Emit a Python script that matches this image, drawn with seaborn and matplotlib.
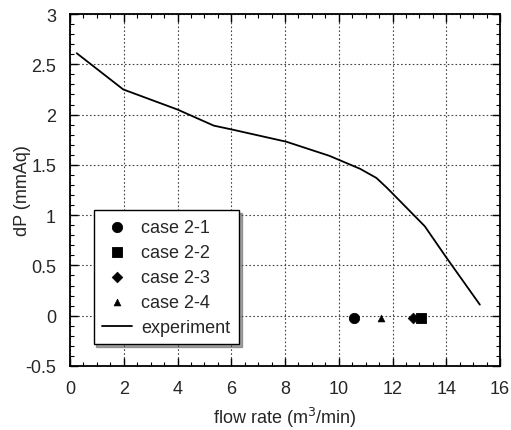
import numpy as np
import pandas as pd
import matplotlib
matplotlib.use("Agg")
import matplotlib.pyplot as plt
import seaborn as sns
from matplotlib.ticker import MultipleLocator

# experiment curve
exp_flow = [0.25, 1.98, 4.0, 5.35, 6.05, 8.05, 9.65, 10.8, 11.4, 11.8, 13.2, 14.0, 15.25]
exp_dp = [2.61, 2.25, 2.05, 1.89, 1.85, 1.73, 1.59, 1.46, 1.37, 1.27, 0.89, 0.58, 0.11]

# simulation cases
case_names = ["case 2-1", "case 2-2", "case 2-3", "case 2-4"]
case_flow = [10.55, 13.05, 12.75, 11.58]
case_dp = [-0.02, -0.02, -0.02, -0.02]
case_markers = ["o", "s", "D", "^"]
case_sizes = [55, 60, 30, 25]

sns.set_style("ticks")
plt.rcParams['font.family'] = ['Liberation Sans', 'DejaVu Sans']

fig = plt.figure(figsize=(5.11, 4.31), dpi=100)
ax = fig.add_axes([70/511, 1-367/431, 430/511, 352/431])

df_exp = pd.DataFrame({"flow": exp_flow, "dp": exp_dp})
sns.lineplot(data=df_exp, x="flow", y="dp", ax=ax, color="black", lw=1.3,
             label="experiment", sort=False, zorder=3)

for name, fx, dy, mk, sz in zip(case_names, case_flow, case_dp, case_markers, case_sizes):
    d = pd.DataFrame({"flow": [fx], "dp": [dy]})
    sns.scatterplot(data=d, x="flow", y="dp", ax=ax, marker=mk, s=sz,
                    color="black", edgecolor="black", label=name, zorder=4)

ax.set_xlim(0, 16)
ax.set_ylim(-0.5, 3)
ax.xaxis.set_minor_locator(MultipleLocator(0.5))
ax.yaxis.set_minor_locator(MultipleLocator(0.1))
ax.set_xticks(np.arange(0, 17, 2))
ax.set_xticklabels([str(v) for v in range(0, 17, 2)])
ax.set_yticks(np.arange(-0.5, 3.01, 0.5))
ax.set_yticklabels(["-0.5", "0", "0.5", "1", "1.5", "2", "2.5", "3"])
ax.tick_params(which="both", direction="in", top=True, right=True, labelsize=13, color="black")
ax.tick_params(which="major", length=6, width=1)
ax.tick_params(which="minor", length=3, width=0.8)
ax.tick_params(axis="x", pad=10)
ax.tick_params(axis="y", pad=10)
ax.grid(True, which="major", linestyle=(0, (1.5, 2)), color="#444444", lw=0.8)
for s in ax.spines.values():
    s.set_color("black")
    s.set_linewidth(1.3)

ax.set_xlabel("flow rate (m$^3$/min)", fontsize=13, labelpad=6)
ax.set_ylabel("dP (mmAq)", fontsize=13, labelpad=-4)

h, l = ax.get_legend_handles_labels()
order = [l.index(n) for n in case_names] + [l.index("experiment")]
leg = ax.legend([h[i] for i in order], [l[i] for i in order],
                loc="lower left", bbox_to_anchor=(0.055, 0.062),
                fontsize=13, frameon=True, fancybox=False, shadow=True,
                edgecolor="black", framealpha=1, borderpad=0.45,
                handlelength=1.7, labelspacing=0.45, handletextpad=0.5,
                borderaxespad=0)
leg.get_frame().set_linewidth(1.0)

fig.savefig("out.png", dpi=100)
